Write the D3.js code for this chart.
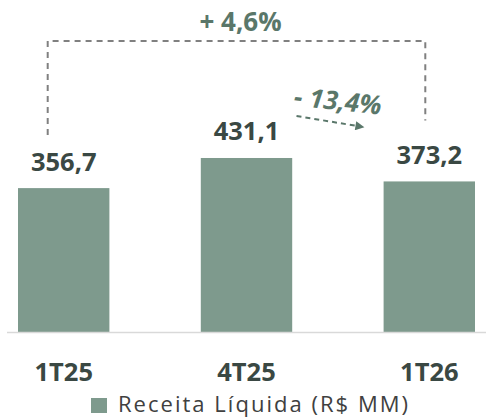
<!DOCTYPE html>
<html>
<head>
<meta charset="utf-8">
<script src="https://cdn.jsdelivr.net/npm/d3@7"></script>
<style>
  html, body { margin: 0; padding: 0; background: #fff; }
  svg { display: block; }
  text { font-family: "Open Sans", "Noto Sans", sans-serif; }
</style>
</head>
<body>
<div id="chart"></div>
<script>
// data
const categories = ['1T25', '4T25', '1T26'];
const values = [356.7, 431.1, 373.2];
const valueLabels = ['356,7', '431,1', '373,2'];
const changeYoY = '+ 4,6%';     // 1T25 -> 1T26
const changeQoQ = '- 13,4%';    // 4T25 -> 1T26
const seriesName = 'Receita Líquida (R$ MM)';

const width = 486, height = 418;
const baseline = 332.5;

const colorBar = '#7e9a8d';
const colorLabel = '#3a4843';
const colorChange = '#5a776a';
const colorDash = '#808080';

const svg = d3.select('#chart').append('svg')
    .attr('width', width)
    .attr('height', height);

// scales
const x = d3.scaleBand()
    .domain(categories)
    .range([18, 475])
    .paddingInner(0.5)
    .paddingOuter(0);

const y = d3.scaleLinear()
    .domain([0, 600])
    .range([baseline, baseline - 0.4048 * 600]);

// bars
svg.append('g')
    .selectAll('rect')
    .data(values)
    .join('rect')
    .attr('x', (d, i) => x(categories[i]))
    .attr('y', d => y(d))
    .attr('width', x.bandwidth())
    .attr('height', d => y(0) - y(d))
    .attr('fill', colorBar);

// base line
svg.append('line')
    .attr('x1', 7).attr('x2', 486)
    .attr('y1', baseline).attr('y2', baseline)
    .attr('stroke', '#d9d9d9')
    .attr('stroke-width', 1.5);

// value labels
svg.append('g')
    .selectAll('text')
    .data(values)
    .join('text')
    .attr('x', (d, i) => x(categories[i]) + x.bandwidth() / 2)
    .attr('y', d => y(d) - 17.5)
    .attr('text-anchor', 'middle')
    .attr('font-size', 25.5)
    .attr('font-weight', 700)
    .attr('fill', colorLabel)
    .text((d, i) => valueLabels[i]);

// category axis (no line, no ticks)
const xAxis = svg.append('g')
    .attr('transform', `translate(0,${baseline})`)
    .call(d3.axisBottom(x).tickSize(0).tickPadding(0));
xAxis.select('.domain').remove();
xAxis.selectAll('text')
    .attr('dy', null)
    .attr('y', 48.5)
    .attr('font-size', 25.5)
    .attr('font-weight', 700)
    .attr('font-family', '"Open Sans", sans-serif')
    .attr('fill', colorLabel);

// year-over-year bracket
const cx = c => x(c) + x.bandwidth() / 2;
const bracketTop = 41;
const lx = cx(categories[0]) - 16;
const rx = cx(categories[2]) - 4;
svg.append('path')
    .attr('d', `M${lx},${y(values[0]) - 53}V${bracketTop}H${rx}V${y(values[2]) - 61}`)
    .attr('fill', 'none')
    .attr('stroke', colorDash)
    .attr('stroke-width', 2)
    .attr('stroke-dasharray', '6,5');

svg.append('text')
    .attr('x', (lx + rx) / 2 + 4)
    .attr('y', 31)
    .attr('text-anchor', 'middle')
    .attr('font-size', 26)
    .attr('font-weight', 700)
    .attr('fill', colorChange)
    .text(changeYoY);

// quarter-over-quarter arrow
svg.append('defs').append('marker')
    .attr('id', 'arrow')
    .attr('viewBox', '0 0 10 10')
    .attr('refX', 2).attr('refY', 5)
    .attr('markerWidth', 5).attr('markerHeight', 4.5)
    .attr('markerUnits', 'strokeWidth')
    .attr('orient', 'auto')
    .append('path')
    .attr('d', 'M0,0L10,5L0,10Z')
    .attr('fill', colorChange);

const ax0 = cx(categories[1]) + 50, ay0 = 116;
const ax1 = cx(categories[2]) - 72, ay1 = 126;
svg.append('line')
    .attr('x1', ax0).attr('y1', ay0)
    .attr('x2', ax1).attr('y2', ay1)
    .attr('stroke', colorChange)
    .attr('stroke-width', 2)
    .attr('stroke-dasharray', '5,4')
    .attr('marker-end', 'url(#arrow)');

svg.append('text')
    .attr('transform', `translate(337,110) rotate(6)`)
    .attr('text-anchor', 'middle')
    .attr('font-size', 26)
    .attr('font-weight', 700)
    .attr('font-style', 'italic')
    .attr('fill', colorChange)
    .text(changeQoQ);

// legend
const legend = svg.append('g').attr('transform', 'translate(91,398)');
legend.append('rect')
    .attr('width', 16).attr('height', 15)
    .attr('fill', colorBar);
legend.append('text')
    .attr('x', 27)
    .attr('y', 13.5)
    .attr('font-size', 22)
    .attr('textLength', 290)
    .attr('lengthAdjust', 'spacing')
    .attr('fill', '#404040')
    .text(seriesName);
</script>
</body>
</html>
